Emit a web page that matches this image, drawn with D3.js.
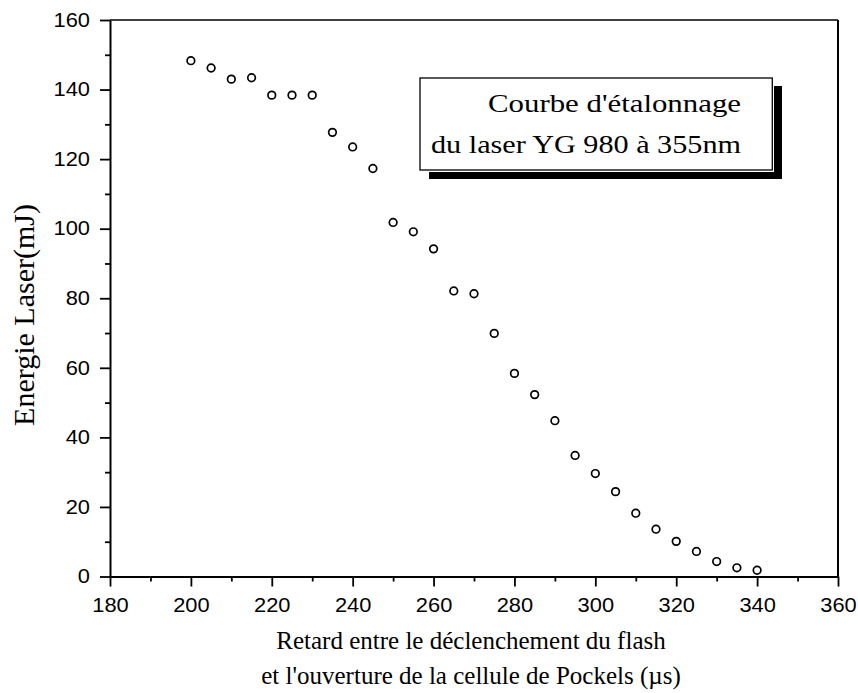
<!DOCTYPE html>
<html>
<head>
<meta charset="utf-8">
<script src="https://cdn.jsdelivr.net/npm/d3@7"></script>
<style>
  html, body { margin: 0; padding: 0; background: #fff; }
  svg { display: block; }
</style>
</head>
<body>
<svg id="chart" width="858" height="693"></svg>
<script>
// ---- Data ----
const delay = [200, 205, 210, 215, 220, 225, 230, 235, 240, 245, 250, 255, 260, 265, 270,
               275, 280, 285, 290, 295, 300, 305, 310, 315, 320, 325, 330, 335, 340];
const energy = [148.3, 146.2, 143.0, 143.4, 138.4, 138.4, 138.4, 127.7, 123.5, 117.3, 101.8, 99.1, 94.2, 82.1, 81.3,
                69.9, 58.4, 52.3, 44.8, 34.8, 29.6, 24.4, 18.2, 13.6, 10.1, 7.2, 4.3, 2.5, 1.8];
const xMajorTicks = [180, 200, 220, 240, 260, 280, 300, 320, 340, 360];
const xMinorTicks = [190, 210, 230, 250, 270, 290, 310, 330, 350];
const yMajorTicks = [0, 20, 40, 60, 80, 100, 120, 140, 160];
const yMinorTicks = [10, 30, 50, 70, 90, 110, 130, 150];
const xTitleLines = ["Retard entre le déclenchement du flash", "et l'ouverture de la cellule de Pockels (µs)"];
const yTitle = "Energie Laser(mJ)";
const legendLines = ["Courbe d'étalonnage", "du laser YG 980 à 355nm"];

// ---- Layout ----
const L = 110, R = 838, T = 20, B = 576.5;
const serif = "'Liberation Serif', 'Times New Roman', serif";
const sans = "'Liberation Sans', Arial, sans-serif";

const svg = d3.select("#chart");
const x = d3.scaleLinear().domain([180, 360]).range([L, R]);
const y = d3.scaleLinear().domain([0, 160]).range([B, T]);

// frame (top & right)
svg.append("line").attr("x1", L).attr("x2", R).attr("y1", T).attr("y2", T)
  .attr("stroke", "#000").attr("stroke-width", 1.6);
svg.append("line").attr("x1", R).attr("x2", R).attr("y1", T).attr("y2", B)
  .attr("stroke", "#000").attr("stroke-width", 2);

function styleAxis(g, stretch) {
  g.select(".domain").attr("stroke", "#000").attr("stroke-width", 2);
  g.selectAll(".tick line").attr("stroke", "#000").attr("stroke-width", 1.8);
  g.selectAll(".tick text")
    .attr("fill", "#000")
    .style("font-family", sans)
    .style("font-size", "19.5px")
    .each(function () {
      const len = this.getComputedTextLength();
      d3.select(this).attr("textLength", len * stretch).attr("lengthAdjust", "spacingAndGlyphs");
    });
}

// minor ticks
svg.append("g").attr("transform", `translate(0,${B})`)
  .call(d3.axisBottom(x).tickValues(xMinorTicks).tickSize(5).tickFormat(""))
  .call(g => { g.select(".domain").remove(); g.selectAll(".tick line").attr("stroke", "#000").attr("stroke-width", 1.8); });
svg.append("g").attr("transform", `translate(${L},0)`)
  .call(d3.axisLeft(y).tickValues(yMinorTicks).tickSize(5).tickFormat(""))
  .call(g => { g.select(".domain").remove(); g.selectAll(".tick line").attr("stroke", "#000").attr("stroke-width", 1.8); });

// major axes
svg.append("g").attr("transform", `translate(0,${B})`)
  .call(d3.axisBottom(x).tickValues(xMajorTicks).tickSize(10).tickSizeOuter(0).tickPadding(11.5).tickFormat(d3.format("d")))
  .call(g => styleAxis(g, 1.12));
svg.append("g").attr("transform", `translate(${L},0)`)
  .call(d3.axisLeft(y).tickValues(yMajorTicks).tickSize(10).tickSizeOuter(0).tickPadding(10).tickFormat(d3.format("d")))
  .call(g => styleAxis(g, 1.12));

// data points
svg.append("g").selectAll("circle")
  .data(delay.map((d, i) => [d, energy[i]]))
  .join("circle")
  .attr("cx", d => x(d[0]))
  .attr("cy", d => y(d[1]))
  .attr("r", 3.8)
  .attr("fill", "#fff")
  .attr("stroke", "#000")
  .attr("stroke-width", 1.7);

// axis titles
svg.append("text")
  .attr("transform", "translate(34,315) rotate(-90)")
  .attr("text-anchor", "middle")
  .style("font-family", serif).style("font-size", "30px")
  .text(yTitle);
svg.append("g").selectAll("text").data(xTitleLines).join("text")
  .attr("x", 471)
  .attr("y", (d, i) => 649 + i * 35)
  .attr("text-anchor", "middle")
  .style("font-family", serif).style("font-size", "25px")
  .text(d => d);

// legend box with shadow
const lg = svg.append("g");
lg.append("rect").attr("x", 429).attr("y", 86).attr("width", 353).attr("height", 93).attr("fill", "#000");
lg.append("rect").attr("x", 418.5).attr("y", 76.5).attr("width", 355.5).attr("height", 95.5).attr("fill", "#fff");
lg.append("rect").attr("x", 420).attr("y", 78).attr("width", 352.3).attr("height", 92)
  .attr("fill", "#fff").attr("stroke", "#000").attr("stroke-width", 1.3);
const legendWidths = [253, 310];
lg.selectAll("text.leg").data(legendLines).join("text")
  .attr("class", "leg")
  .attr("x", 741)
  .attr("y", (d, i) => 111.5 + i * 41.5)
  .attr("text-anchor", "end")
  .attr("textLength", (d, i) => legendWidths[i])
  .attr("lengthAdjust", "spacingAndGlyphs")
  .style("font-family", serif).style("font-size", "25px")
  .text(d => d);
</script>
</body>
</html>
